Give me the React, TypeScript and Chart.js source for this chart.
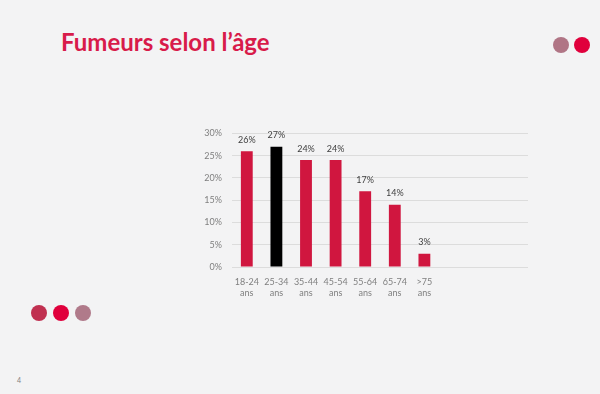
import React, { useEffect, useRef } from "react";
import { Chart, registerables } from "chart.js";

Chart.register(...registerables);

const categories: string[][] = [
  ["18-24", "ans"],
  ["25-34", "ans"],
  ["35-44", "ans"],
  ["45-54", "ans"],
  ["55-64", "ans"],
  ["65-74", "ans"],
  [">75", "ans"],
  [""],
  [""],
  [""],
];
const values: (number | null)[] = [26, 27, 24, 24, 17, 14, 3, null, null, null];
const barColors: string[] = ["#D0163F", "#000000", "#D0163F", "#D0163F", "#D0163F", "#D0163F", "#D0163F", "#D0163F", "#D0163F", "#D0163F"];
const yTicks: number[] = [0, 5, 10, 15, 20, 25, 30];

const FONT = "Lato, 'Open Sans', sans-serif";

const valueLabels = {
  id: "valueLabels",
  afterDatasetsDraw(chart: any) {
    const ctx = chart.ctx;
    const meta = chart.getDatasetMeta(0);
    ctx.save();
    ctx.font = `9px ${FONT}`;
    ctx.fillStyle = "#404040";
    ctx.textAlign = "center";
    ctx.textBaseline = "bottom";
    meta.data.forEach((el: any, i: number) => {
      const v = values[i];
      if (v == null) return;
      ctx.fillText(`${v}%`, el.x, el.y - 7);
    });
    ctx.restore();
  },
};

function BarChart() {
  const ref = useRef<HTMLCanvasElement | null>(null);
  useEffect(() => {
    if (!ref.current) return;
    const chart = new Chart(ref.current, {
      type: "bar",
      data: {
        labels: categories,
        datasets: [
          {
            data: values,
            backgroundColor: barColors,
            borderWidth: 0,
            categoryPercentage: 1,
            barPercentage: 0.4,
          },
        ],
      },
      options: {
        animation: false,
        responsive: false,
        maintainAspectRatio: false,
        layout: { padding: { left: 0, right: 7, top: 12, bottom: 0 } },
        plugins: { legend: { display: false }, tooltip: { enabled: false } },
        scales: {
          x: {
            grid: { display: false, drawTicks: false },
            border: { display: false },
            ticks: {
              color: "#7F7F7F",
              font: { family: FONT, size: 9, lineHeight: 1.3 },
              padding: 9,
              maxRotation: 0,
              autoSkip: false,
            },
            afterFit: (s: any) => {
              s.height = 36;
            },
          },
          y: {
            min: 0,
            max: 30,
            afterBuildTicks: (s: any) => {
              s.ticks = yTicks.map((v) => ({ value: v }));
            },
            grid: { color: "#DCDCDC", drawTicks: false, lineWidth: 1 },
            border: { display: false },
            ticks: {
              color: "#7F7F7F",
              font: { family: FONT, size: 9 },
              padding: 10,
              callback: (v: any) => `${v}%`,
            },
            afterFit: (s: any) => {
              s.width = 42;
            },
          },
        },
      },
      plugins: [valueLabels],
    });
    return () => chart.destroy();
  }, []);
  return <canvas ref={ref} width={345} height={185} style={{ position: "absolute", left: 190, top: 118, width: 345, height: 185 }} />;
}

const dot = (x: number, y: number, color: string) => (
  <div
    style={{
      position: "absolute",
      left: x - 8,
      top: y - 8,
      width: 16,
      height: 16,
      borderRadius: "50%",
      background: color,
    }}
  />
);

export default function App() {
  return (
    <div
      style={{
        position: "fixed",
        left: 0,
        top: 0,
        width: 600,
        height: 394,
        background: "#F3F3F4",
        overflow: "hidden",
        fontFamily: FONT,
      }}
    >
      <div
        style={{
          position: "absolute",
          left: 61,
          top: 27,
          fontSize: 24,
          fontWeight: 700,
          color: "#D81B4A",
          lineHeight: "30px",
          whiteSpace: "nowrap",
        }}
      >
        Fumeurs selon l’âge
      </div>
      {dot(561, 45, "#B07585")}
      {dot(582, 45, "#E0003C")}
      {dot(39, 313, "#C03050")}
      {dot(61, 313, "#E0003C")}
      {dot(83, 313, "#B07A8A")}
      <div style={{ position: "absolute", left: 17, top: 376, fontSize: 7, color: "#808080" }}>4</div>
      <BarChart />
    </div>
  );
}
